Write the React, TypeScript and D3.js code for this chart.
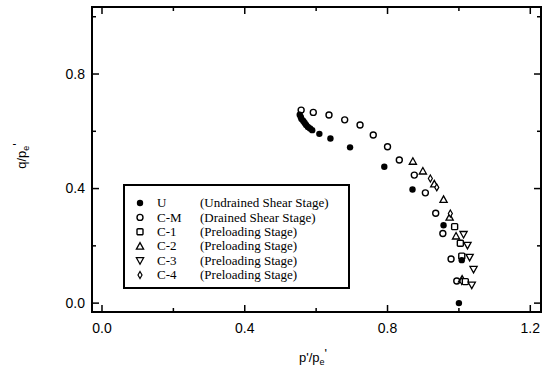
import * as d3 from 'd3'

// p'/pe' and q/pe', one pair of arrays per test
const uP = [0.554, 0.557, 0.559, 0.564, 0.568, 0.572, 0.577, 0.583, 0.589, 0.609, 0.64, 0.695, 0.791, 0.87, 0.957, 1.008, 1.0]
const uQ = [0.658, 0.65, 0.643, 0.636, 0.629, 0.622, 0.615, 0.61, 0.604, 0.591, 0.575, 0.544, 0.476, 0.397, 0.272, 0.15, 0.0]

const cmP = [0.558, 0.592, 0.636, 0.68, 0.723, 0.76, 0.8, 0.833, 0.875, 0.906, 0.935, 0.955, 0.978, 0.994]
const cmQ = [0.674, 0.666, 0.657, 0.64, 0.622, 0.587, 0.546, 0.5, 0.447, 0.385, 0.314, 0.243, 0.154, 0.077]

const c1P = [0.988, 1.004, 1.008, 1.018]
const c1Q = [0.267, 0.209, 0.164, 0.075]

const c2P = [0.871, 0.899, 0.931, 0.957, 0.974, 0.992, 1.009]
const c2Q = [0.495, 0.461, 0.416, 0.362, 0.3, 0.234, 0.084]

const c3P = [1.013, 1.024, 1.03, 1.041, 1.036]
const c3Q = [0.24, 0.202, 0.16, 0.118, 0.063]

const c4P = [0.92, 0.938, 0.976, 1.008]
const c4Q = [0.435, 0.404, 0.313, 0.077]

const legendCodes = ['U', 'C-M', 'C-1', 'C-2', 'C-3', 'C-4']
const legendNotes = [
  '(Undrained Shear Stage)',
  '(Drained Shear Stage)',
  '(Preloading Stage)',
  '(Preloading Stage)',
  '(Preloading Stage)',
  '(Preloading Stage)',
]

const xTicks = [0, 0.4, 0.8, 1.2]
const xMinor = [0.2, 0.6, 1.0]
const yTicks = [0, 0.4, 0.8]
const yMinor = [0.2, 0.6, 1.0]

const W = 548
const H = 367
const frame = { left: 92, right: 541, top: 7, bottom: 312 }

const x = d3.scaleLinear().domain([-0.028, 1.23]).range([frame.left, frame.right])
const y = d3.scaleLinear().domain([-0.031, 1.034]).range([frame.bottom, frame.top])

const tri = (up: boolean) => {
  const s = 3.6
  return up
    ? `M0,${-s}L${s},${s * 0.8}L${-s},${s * 0.8}Z`
    : `M0,${s}L${s},${-s * 0.8}L${-s},${-s * 0.8}Z`
}

const Marker = ({ kind }: { kind: string }) => {
  switch (kind) {
    case 'U':
      return <circle r={3.2} fill="black" />
    case 'C-M':
      return <circle r={3} fill="white" stroke="black" strokeWidth={1.4} />
    case 'C-1':
      return <rect x={-3} y={-3} width={6} height={6} rx={1} fill="white" stroke="black" strokeWidth={1.4} />
    case 'C-2':
      return <path d={tri(true)} fill="white" stroke="black" strokeWidth={1.3} />
    case 'C-3':
      return <path d={tri(false)} fill="white" stroke="black" strokeWidth={1.3} />
    default:
      return <path d={d3.symbol(d3.symbolDiamond, 14)() ?? ''} fill="white" stroke="black" strokeWidth={1.2} />
  }
}

const series = [
  { kind: 'C-M', p: cmP, q: cmQ },
  { kind: 'C-2', p: c2P, q: c2Q },
  { kind: 'C-4', p: c4P, q: c4Q },
  { kind: 'C-1', p: c1P, q: c1Q },
  { kind: 'C-3', p: c3P, q: c3Q },
  { kind: 'U', p: uP, q: uQ },
]

const axisFont = '"Liberation Sans", Arial, sans-serif'
const serif = '"Liberation Serif", "Times New Roman", serif'

export default function App() {
  const legend = { x: 124, y: 185, w: 225, h: 103, row: 14.4 }

  return (
    <div style={{ position: 'fixed', left: 0, top: 0, background: 'white' }}>
      <svg width={W} height={H} viewBox={`0 0 ${W} ${H}`}>
        <rect width={W} height={H} fill="white" />

        {/* ticks, inward on all four sides */}
        <g stroke="black" strokeWidth={1.5}>
          {xTicks.map(t => (
            <g key={'xt' + t}>
              <line x1={x(t)} x2={x(t)} y1={frame.bottom} y2={frame.bottom - 7} />
              <line x1={x(t)} x2={x(t)} y1={frame.top} y2={frame.top + 7} />
            </g>
          ))}
          {xMinor.map(t => (
            <g key={'xm' + t}>
              <line x1={x(t)} x2={x(t)} y1={frame.bottom} y2={frame.bottom - 4} />
              <line x1={x(t)} x2={x(t)} y1={frame.top} y2={frame.top + 4} />
            </g>
          ))}
          {yTicks.map(t => (
            <g key={'yt' + t}>
              <line x1={frame.left} x2={frame.left + 7} y1={y(t)} y2={y(t)} />
              <line x1={frame.right} x2={frame.right - 7} y1={y(t)} y2={y(t)} />
            </g>
          ))}
          {yMinor.map(t => (
            <g key={'ym' + t}>
              <line x1={frame.left} x2={frame.left + 4} y1={y(t)} y2={y(t)} />
              <line x1={frame.right} x2={frame.right - 4} y1={y(t)} y2={y(t)} />
            </g>
          ))}
        </g>

        <rect
          x={frame.left}
          y={frame.top}
          width={frame.right - frame.left}
          height={frame.bottom - frame.top}
          fill="none"
          stroke="black"
          strokeWidth={2}
        />

        <g fontFamily={axisFont} fontSize={14} fill="black">
          {xTicks.map(t => (
            <text key={'xl' + t} x={x(t)} y={333} textAnchor="middle">
              {t.toFixed(1)}
            </text>
          ))}
          {yTicks.map(t => (
            <text key={'yl' + t} x={frame.left - 7} y={y(t)} dy="0.35em" textAnchor="end">
              {t.toFixed(1)}
            </text>
          ))}
          <text x={313} y={362} textAnchor="middle" fontSize={13}>
            p'/p<tspan fontSize={9} dy={3}>e</tspan>
            <tspan dy={-7}>'</tspan>
          </text>
          <text transform="translate(26,156) rotate(-90)" textAnchor="middle" fontSize={13}>
            q/p<tspan fontSize={9} dy={3}>e</tspan>
            <tspan dy={-7}>'</tspan>
          </text>
        </g>

        {series.map(s => (
          <g key={s.kind}>
            {s.p.map((p, i) => (
              <g key={i} transform={`translate(${x(p)},${y(s.q[i])})`}>
                <Marker kind={s.kind} />
              </g>
            ))}
          </g>
        ))}

        <g>
          <rect x={legend.x} y={legend.y} width={legend.w} height={legend.h} fill="white" stroke="black" strokeWidth={2} />
          {legendCodes.map((c, i) => {
            const cy = legend.y + 18 + i * legend.row
            return (
              <g key={c} fontFamily={serif} fontSize={13}>
                <g transform={`translate(140,${cy})`}>
                  <Marker kind={c} />
                </g>
                <text x={157} y={cy} dy="0.33em">{c}</text>
                <text x={200} y={cy} dy="0.33em">{legendNotes[i]}</text>
              </g>
            )
          })}
        </g>
      </svg>
    </div>
  )
}
